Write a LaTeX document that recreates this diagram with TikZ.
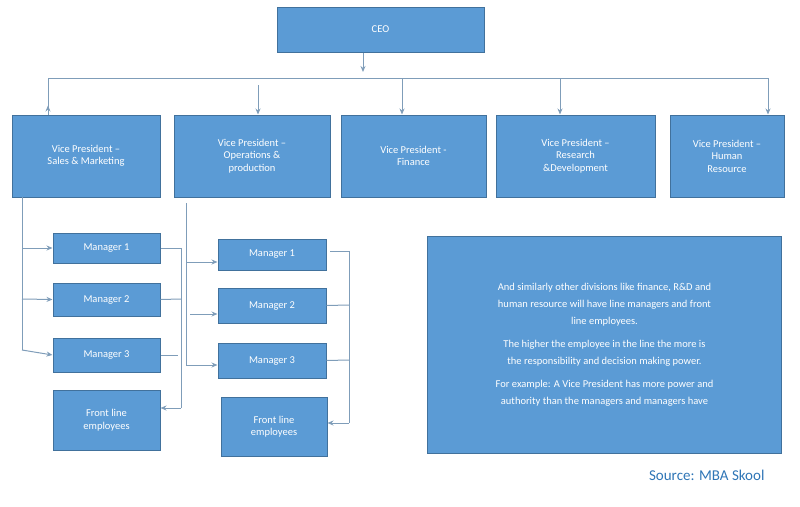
\documentclass[tikz,border=0pt]{standalone}
\usepackage{fontspec}
\setmainfont{Carlito}
\usetikzlibrary{arrows.meta}
\definecolor{boxfill}{HTML}{5B9BD5}
\definecolor{boxline}{HTML}{41719C}
\definecolor{conn}{HTML}{7F9DB9}
\definecolor{src}{HTML}{2E75B6}
\begin{document}
\begin{tikzpicture}[x=1pt,y=-1pt,
  bx/.style={draw=boxline,line width=1pt,fill=boxfill,text=white,font=\fontsize{10.5}{12.5}\selectfont,align=center,inner sep=0pt},
  ln/.style={draw=conn,line width=1pt},
  ar/.style={ln,-{Stealth[length=6pt,width=5pt]}}]
\useasboundingbox (0,0) rectangle (800,506);
\newcommand{\bxat}[6]{\node[bx,minimum width=#4-#2,minimum height=#5-#3] (#1) at ({(#2+#4)/2},{(#3+#5)/2}) {#6};}
\bxat{ceo}{277}{7}{484}{52}{CEO}
\bxat{vp1}{12}{115}{160}{197}{Vice President –\\Sales \& Marketing}
\bxat{vp2}{174}{115}{330}{197}{Vice President –\\Operations \&\\production}
\bxat{vp3}{341}{115}{486}{197}{Vice President -\\Finance}
\bxat{vp4}{496}{115}{655}{197}{Vice President –\\Research\\\&Development}
\bxat{vp5}{670}{115}{784}{197}{Vice President –\\Human\\Resource}
\bxat{a1}{53}{233}{160}{263}{Manager 1}
\bxat{a2}{53}{283}{160}{316}{Manager 2}
\bxat{a3}{53}{338}{160}{372}{Manager 3}
\bxat{af}{53}{390}{160}{450}{Front line\\employees}
\bxat{b1}{218}{239}{326}{270}{Manager 1}
\bxat{b2}{218}{288}{326}{323}{Manager 2}
\bxat{b3}{218}{343}{326}{378}{Manager 3}
\bxat{bf}{221}{397}{327}{456}{Front line\\employees}
\node[bx,minimum width=354,minimum height=217,anchor=north west,font=\fontsize{10.5}{17}\selectfont] (txt) at (427,236) {\parbox{340pt}{\centering
And similarly other divisions like finance, R\&D and\\human resource will have line managers and front\\line employees.\\[6pt]
The higher the employee in the line the more is\\the responsibility and decision making power.\\[6pt]
For example: A Vice President has more power and\\authority than the managers and managers have}};
\node[text=src,font=\fontsize{15}{18}\selectfont,anchor=east] (source) at (768,475) {Source: MBA Skool};
\coordinate (bus) at (363,78);
\draw[ar] (ceo.south -| bus) -- (363,72);
\draw[ln] (48,78) -- (768,78);
\draw[ar] (48,78) -- (vp1.north -| 48,0) ++(0,-9) coordinate (t1);
\draw[ar] (258,85) -- (vp2.north -| 258,0);
\draw[ar] (402,78) -- (vp3.north -| 402,0);
\draw[ar] (560,78) -- (vp4.north -| 560,0);
\draw[ar] (768,78) -- (vp5.north -| 768,0);
% left column
\draw[ln] (22,197) -- (22,350);
\draw[ar] (22,248) -- (a1.west);
\draw[ar] (22,299) -- (a2.west);
\draw[ar] (22,350) -- (a3.west);
\draw[ln] (a1.east) -- (181,248) -- (181,408);
\draw[ln] (a2.east) -- (181,299);
\draw[ln] (a3.east) -- (178,355);
\draw[ar] (181,408) -- (af.east |- 0,408);
% second column
\draw[ln] (186,203) -- (186,365);
\draw[ar] (186,262) -- (b1.west |- 0,262);
\draw[ar] (190,314) -- (b2.west |- 0,314);
\draw[ar] (186,365) -- (b3.west |- 0,365);
\draw[ln] (330,251) -- (349,251) -- (349,423);
\draw[ln] (b2.east) -- (349,305);
\draw[ln] (b3.east) -- (349,360);
\draw[ar] (349,423) -- (bf.east |- 0,423);
\end{tikzpicture}
\end{document}
